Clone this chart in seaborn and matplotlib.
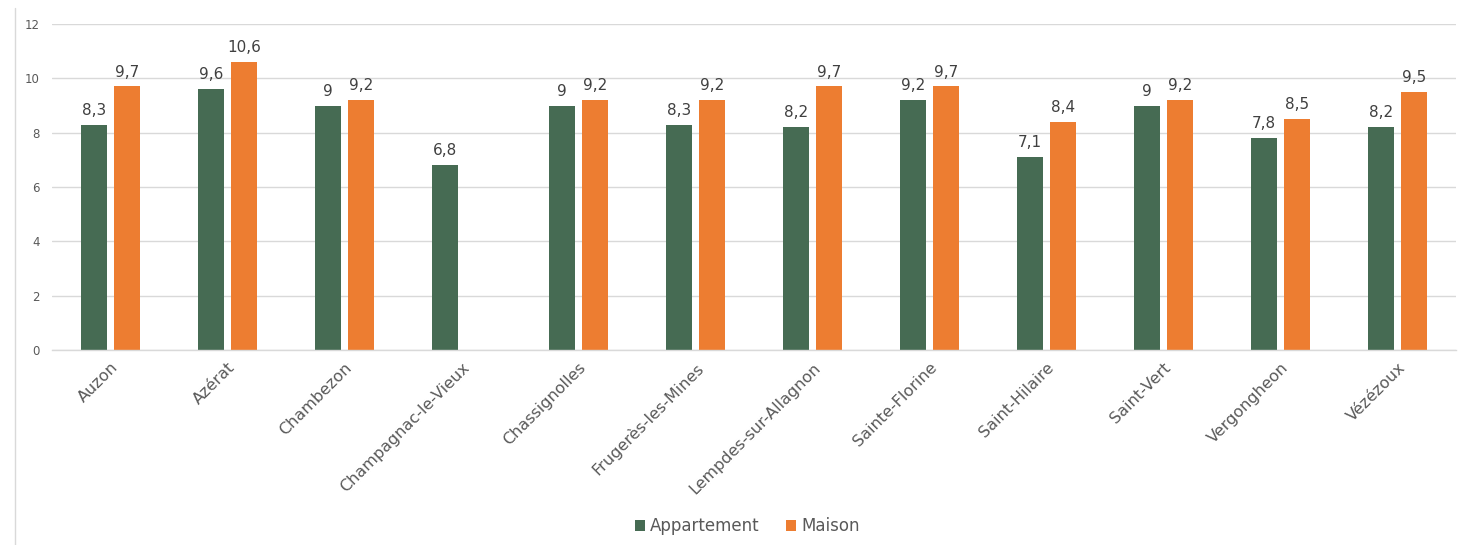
import matplotlib
matplotlib.use("Agg")
import matplotlib.pyplot as plt
from matplotlib.lines import Line2D
import seaborn as sns
import numpy as np
import pandas as pd

communes = ["Auzon", "Azérat", "Chambezon", "Champagnac-le-Vieux", "Chassignolles",
            "Frugerès-les-Mines", "Lempdes-sur-Allagnon", "Sainte-Florine",
            "Saint-Hilaire", "Saint-Vert", "Vergongheon", "Vézézoux"]
appartement = [8.3, 9.6, 9.0, 6.8, 9.0, 8.3, 8.2, 9.2, 7.1, 9.0, 7.8, 8.2]
maison = [9.7, 10.6, 9.2, np.nan, 9.2, 9.2, 9.7, 9.7, 8.4, 9.2, 8.5, 9.5]
series = ["Appartement", "Maison"]
colors = ["#466B53", "#ED7D31"]
y_ticks = [0, 2, 4, 6, 8, 10, 12]

df = pd.DataFrame({
    "Commune": communes * 2,
    "Type": [series[0]] * len(communes) + [series[1]] * len(communes),
    "Valeur": appartement + maison,
})

sns.set_theme(style="white")
plt.rcParams["font.family"] = ["DejaVu Sans"]

fig = plt.figure(figsize=(14.58, 5.45), dpi=100)
ax = fig.add_axes([52 / 1458, 1 - 350 / 545, (1456 - 52) / 1458, (350 - 24) / 545])

sns.barplot(data=df, x="Commune", y="Valeur", hue="Type", order=communes,
            hue_order=series, palette=colors, width=0.573, gap=0.22,
            ax=ax, legend=True, saturation=1, linewidth=0)

for cont in ax.containers:
    labels = []
    for bar in cont:
        h = bar.get_height()
        if np.isnan(h):
            labels.append("")
        else:
            labels.append(f"{h:g}".replace(".", ","))
    ax.bar_label(cont, labels=labels, padding=5, fontsize=11, color="#404040")

ax.set_ylim(0, 12)
ax.set_xlim(-0.5, len(communes) - 0.5)
ax.set_yticks(y_ticks)
ax.set_yticklabels([str(t) for t in y_ticks], fontsize=8.5, color="#595959")
ax.tick_params(axis="y", length=0, pad=9)
ax.tick_params(axis="x", length=0, pad=7)
ax.set_xticks(range(len(communes)))
ax.set_xticklabels(communes, rotation=45, ha="right", rotation_mode="anchor",
                   fontsize=11.5, color="#595959")
ax.set_xlabel("")
ax.set_ylabel("")
ax.grid(axis="y", color="#D9D9D9", linewidth=1)
ax.set_axisbelow(True)
for s in ["top", "right", "left"]:
    ax.spines[s].set_visible(False)
ax.spines["bottom"].set_color("#D9D9D9")
ax.spines["bottom"].set_linewidth(1)

leg = ax.legend(loc="lower center", bbox_to_anchor=(0.495, -0.615), ncol=2,
                frameon=False, fontsize=12, handlelength=0.6, handleheight=0.6,
                handletextpad=0.3, columnspacing=1.6)
for t in leg.get_texts():
    t.set_color("#595959")

fig.add_artist(Line2D([15 / 1458, 15 / 1458], [0, 1 - 8 / 545],
                      transform=fig.transFigure, color="#D9D9D9", linewidth=1))

fig.savefig("out.png", dpi=100)
